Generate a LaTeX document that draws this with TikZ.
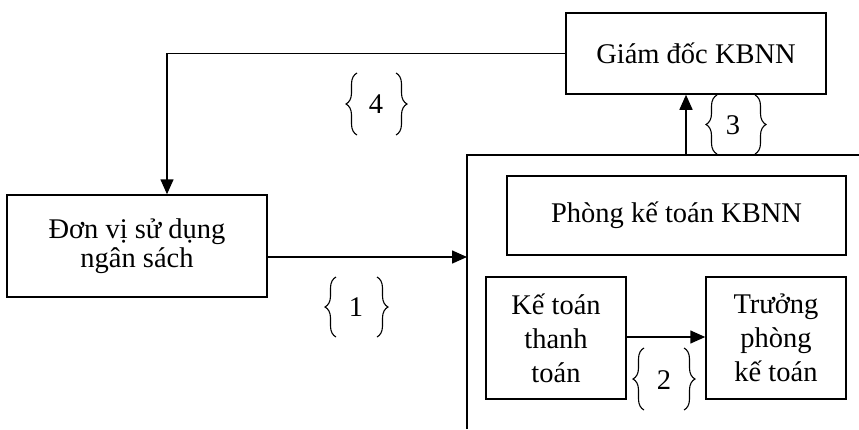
\documentclass[tikz,border=0pt]{standalone}
\usepackage{fontspec}
\setmainfont{Liberation Serif}
\usetikzlibrary{arrows.meta,decorations.pathreplacing}
\begin{document}
\begin{tikzpicture}[x=1pt,y=-1pt,
  every node/.style={font=\fontsize{28.5}{34}\selectfont},
  box/.style={draw,line width=1.5pt,rectangle,inner sep=0pt,align=center},
  line/.style={line width=1.5pt},
  arr/.style={line width=1.5pt,-{Triangle[length=15pt,width=13pt]}},
  brc/.style={line width=1.1pt,decorate,decoration={brace,amplitude=11pt}}]
\useasboundingbox (0,0) rectangle (859,429);
% boxes
\node[box,minimum width=260pt,minimum height=81pt] (gd) at (696,53.5) {Giám đốc KBNN};
\node[box,minimum width=260pt,minimum height=102pt,font=\fontsize{28.5}{29.5}\selectfont] (dv) at (137,246) {Đơn vị sử dụng\\ngân sách};
\node[box,minimum width=339pt,minimum height=79pt] (pk) at (676.5,215.5) {Phòng kế toán KBNN};
\node[box,minimum width=140pt,minimum height=122pt] (kt) at (556,338) {Kế toán\\thanh\\toán};
\node[box,minimum width=140pt,minimum height=122pt] (tp) at (776,338) {Trưởng\\phòng\\kế toán};
% frame (open outer box)
\coordinate (fbl) at (467,429);
\coordinate (ftl) at (467,155);
\coordinate (ftr) at (859,155);
\draw[line] (fbl) -- (ftl) -- (ftr);
% connector coordinates
\coordinate (c4) at (167,53.5);
\coordinate (fl) at (467,257);
\coordinate (ft) at (686,155);
% connectors
\draw[arr] (gd.west) -- (c4) -- (c4 |- dv.north);
\draw[arr] (fl -| dv.east) -- (fl);
\draw[arr] (ft) -- (ft |- gd.south);
\draw[arr] (kt.east |- 0,337) -- (tp.west |- 0,337);
% labels with braces
\node (n1) at (356,307) {1};
\node (n2) at (664,380) {2};
\node (n3) at (733,125) {3};
\node (n4) at (376,104) {4};
\draw[brc] (336,337) -- (336,277);
\draw[brc] (377,277) -- (377,337);
\draw[brc] (644,410) -- (644,348);
\draw[brc] (684,348) -- (684,410);
\draw[brc] (717,154) -- (717,95);
\draw[brc] (755,95) -- (755,154);
\draw[brc] (357,135) -- (357,73);
\draw[brc] (396,73) -- (396,135);
\end{tikzpicture}
\end{document}
